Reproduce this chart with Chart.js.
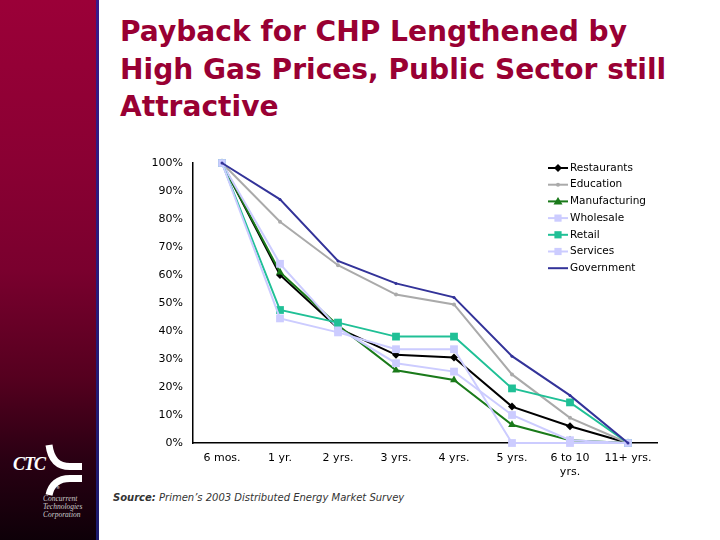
<!DOCTYPE html>
<html>
<head>
<meta charset="utf-8">
<script src="https://cdn.jsdelivr.net/npm/chart.js"></script>
<style>
  html, body { margin: 0; padding: 0; background: #fff; }
  body { width: 720px; height: 540px; position: relative; overflow: hidden; font-family: "DejaVu Sans", sans-serif; }
  #sidebar { position: absolute; left: 0; top: 0; width: 96px; height: 540px;
    background: linear-gradient(#9b0038 0%, #8a0033 30%, #7a002e 50%, #55001f 70%, #2a0013 85%, #0e0008 100%); }
  #bar { position: absolute; left: 96px; top: 0; width: 3px; height: 540px; background: linear-gradient(#3a1a8a, #1c1a6a); }
  #title { position: absolute; left: 120px; top: 13px; color: #990033; font-family: "DejaVu Sans", sans-serif;
    font-weight: bold; font-size: 28.1px; line-height: 37.5px; white-space: nowrap; }
  #chart { position: absolute; left: 100px; top: 140px; }
  #source { position: absolute; left: 113px; top: 492px; font-size: 10px; font-style: italic; color: #333; white-space: nowrap; }
  #source b { font-weight: bold; }
  #ctc { position: absolute; left: 13px; top: 454px; color: #fff; font-family: "Liberation Serif", serif; font-style: italic; font-weight: bold; font-size: 18px; letter-spacing: -1px; }
  #ctcname { position: absolute; left: 43px; top: 495px; color: #cccccc; font-family: "Liberation Serif", serif; font-style: italic; font-size: 7.5px; line-height: 7.8px; }
  #logo { position: absolute; left: 0; top: 430px; }
</style>
</head>
<body>
<div id="sidebar"></div>
<div id="bar"></div>
<svg id="logo" width="96" height="80">
  <path d="M49,15 C51,30 58,36.5 70,36.5 L82,36.5" stroke="#fff" stroke-width="7" fill="none"/>
  <path d="M82,48.5 L70,48.5 C58,48.5 51,55 49,65" stroke="#fff" stroke-width="7" fill="none"/>
  <text x="56" y="59" font-size="4" fill="#fff" font-family="DejaVu Sans">®</text>
</svg>
<div id="ctc">CTC</div>
<div id="ctcname">Concurrent<br>Technologies<br>Corporation</div>
<div id="title">Payback for CHP Lengthened by<br>High Gas Prices, Public Sector still<br>Attractive</div>
<canvas id="chart" width="620" height="345"></canvas>
<div id="source"><b>Source:</b> Primen’s 2003 Distributed Energy Market Survey</div>
<script>
const categories = ['6 mos.', '1 yr.', '2 yrs.', '3 yrs.', '4 yrs.', '5 yrs.', ['6 to 10', 'yrs.'], '11+ yrs.'];
const seriesNames = ['Restaurants', 'Education', 'Manufacturing', 'Wholesale', 'Retail', 'Services', 'Government'];
const restaurants   = [100, 60, 41, 31.5, 30.5, 13, 6, 0];
const education     = [100, 79, 63.5, 53, 49.5, 24.5, 9, 0];
const manufacturing = [100, 61, 42, 26, 22.5, 6.5, 1, 0];
const wholesale     = [100, 64, 41, 28.5, 25.5, 10, 1, 0];
const retail        = [100, 47.5, 43, 38, 38, 19.5, 14.5, 0];
const services      = [100, 44.5, 39.5, 33.5, 33.5, 0, 0, 0];
const government    = [100, 87, 65, 57, 52, 31, 17, 0];
const yTicks = [0, 10, 20, 30, 40, 50, 60, 70, 80, 90, 100];

const seriesValues = [restaurants, education, manufacturing, wholesale, retail, services, government];
const styles = [
  { color: '#000000', point: 'rectRot', r: 4 },
  { color: '#aaaaaa', point: 'circle', r: 2 },
  { color: '#1a7a1a', point: 'triangle', r: 4.5 },
  { color: '#ccccff', point: 'rect', r: 5.5 },
  { color: '#20c096', point: 'rect', r: 5.5 },
  { color: '#ccccff', point: 'rect', r: 5.5 },
  { color: '#333399', point: 'circle', r: 1.5 }
];

const datasets = seriesNames.map((name, i) => ({
  label: name,
  data: seriesValues[i],
  borderColor: styles[i].color,
  backgroundColor: styles[i].color,
  pointBackgroundColor: styles[i].color,
  pointBorderColor: styles[i].color,
  pointStyle: styles[i].point,
  pointRadius: styles[i].r,
  pointBorderWidth: 0,
  borderWidth: 2,
  tension: 0,
  clip: false,
  order: seriesNames.length - i
}));

const legendPlugin = {
  id: 'lineLegend',
  afterDraw(chart) {
    const ctx = chart.ctx;
    const x0 = 448, y0 = 28, dy = 16.7;
    ctx.save();
    chart.data.datasets.forEach((ds, i) => {
      const y = y0 + i * dy;
      ctx.strokeStyle = ds.borderColor;
      ctx.lineWidth = 2;
      ctx.beginPath(); ctx.moveTo(x0, y); ctx.lineTo(x0 + 20, y); ctx.stroke();
      const cx = x0 + 10, r = Math.min(ds.pointRadius, 4.5);
      ctx.fillStyle = ds.borderColor;
      ctx.beginPath();
      if (ds.pointStyle === 'rectRot') {
        ctx.moveTo(cx, y - r); ctx.lineTo(cx + r, y); ctx.lineTo(cx, y + r); ctx.lineTo(cx - r, y); ctx.closePath(); ctx.fill();
      } else if (ds.pointStyle === 'triangle') {
        ctx.moveTo(cx, y - r); ctx.lineTo(cx + r, y + r * 0.7); ctx.lineTo(cx - r, y + r * 0.7); ctx.closePath(); ctx.fill();
      } else if (ds.pointStyle === 'rect') {
        ctx.rect(cx - r * 0.8, y - r * 0.8, r * 1.6, r * 1.6); ctx.fill();
      } else if (ds.pointRadius > 1.5) {
        ctx.arc(cx, y, ds.pointRadius, 0, Math.PI * 2); ctx.fill();
      }
      ctx.fillStyle = '#000';
      ctx.font = '10.5px "DejaVu Sans", sans-serif';
      ctx.textBaseline = 'middle';
      ctx.textAlign = 'left';
      ctx.fillText(ds.label, x0 + 22, y);
    });
    ctx.restore();
  }
};

new Chart(document.getElementById('chart'), {
  type: 'line',
  data: { labels: categories, datasets },
  options: {
    responsive: false,
    devicePixelRatio: 1,
    animation: false,
    layout: { padding: { top: 23, right: 63, left: 0, bottom: 0 } },
    plugins: { legend: { display: false }, tooltip: { enabled: false } },
    scales: {
      x: {
        type: 'category',
        offset: true,
        grid: { display: false, drawTicks: false },
        border: { display: true, color: '#000', width: 1.5 },
        ticks: { color: '#000', font: { size: 11, family: '"DejaVu Sans", sans-serif' }, padding: 9, maxRotation: 0, autoSkip: false },
        afterFit: s => { s.height = 42; }
      },
      y: {
        min: 0, max: 100,
        afterBuildTicks: s => { s.ticks = yTicks.map(v => ({ value: v })); },
        grid: { display: false, drawTicks: false },
        border: { display: true, color: '#000', width: 1.5 },
        ticks: { color: '#000', font: { size: 11, family: '"DejaVu Sans", sans-serif' }, padding: 10, callback: v => v + '%' },
        afterFit: s => { s.width = 93; }
      }
    }
  },
  plugins: [legendPlugin]
});
</script>
</body>
</html>
